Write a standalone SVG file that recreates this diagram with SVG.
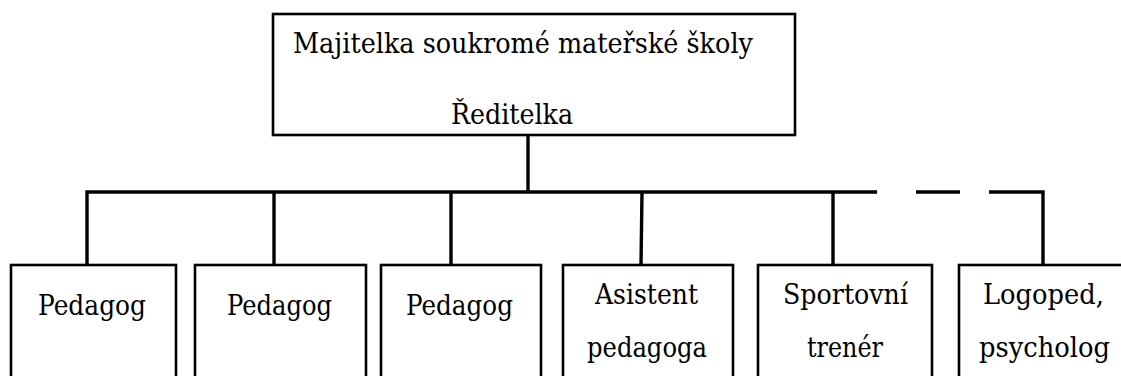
<svg xmlns="http://www.w3.org/2000/svg" width="1121" height="376" viewBox="0 0 1121 376">
<style>
.box{fill:#fff;stroke:#000;stroke-width:2.6}
.t{font-family:'DejaVu Serif','Liberation Serif',serif;font-size:28px;fill:#000}
.c{fill:none;stroke:#000;stroke-width:3.4}
</style>
<rect x="0" y="0" width="1121" height="376" fill="#fff"/>
<g id="connectors">
<path class="c" d="M528 135V192"/>
<path class="c" d="M87 265V192H877"/>
<path class="c" d="M916 192H960"/>
<path class="c" d="M989 192H1043V265"/>
<path class="c" d="M274 192V265"/>
<path class="c" d="M451 192V265"/>
<path class="c" d="M642 192L641 265"/>
<path class="c" d="M833 192V265"/>
</g>
<g id="top">
<rect class="box" x="273" y="14" width="522" height="121"/>
<text class="t" x="293" y="53" textLength="460" lengthAdjust="spacingAndGlyphs">Majitelka soukromé mateřské školy</text>
<text class="t" x="451" y="124" textLength="122" lengthAdjust="spacingAndGlyphs">Ředitelka</text>
</g>
<g id="n1">
<rect class="box" x="11" y="265" width="165" height="130"/>
<text class="t" x="38" y="315" textLength="108" lengthAdjust="spacingAndGlyphs">Pedagog</text>
</g>
<g id="n2">
<rect class="box" x="195" y="265" width="171" height="130"/>
<text class="t" x="227" y="315" textLength="105" lengthAdjust="spacingAndGlyphs">Pedagog</text>
</g>
<g id="n3">
<rect class="box" x="381" y="265" width="160" height="130"/>
<text class="t" x="406" y="315" textLength="107" lengthAdjust="spacingAndGlyphs">Pedagog</text>
</g>
<g id="n4">
<rect class="box" x="563" y="265" width="170" height="130"/>
<text class="t" x="595" y="304" textLength="103" lengthAdjust="spacingAndGlyphs">Asistent</text>
<text class="t" x="587" y="357" textLength="120" lengthAdjust="spacingAndGlyphs">pedagoga</text>
</g>
<g id="n5">
<rect class="box" x="758" y="265" width="174" height="130"/>
<text class="t" x="783" y="304" textLength="125" lengthAdjust="spacingAndGlyphs">Sportovní</text>
<text class="t" x="807" y="357" textLength="76" lengthAdjust="spacingAndGlyphs">trenér</text>
</g>
<g id="n6">
<rect class="box" x="959" y="265" width="180" height="130"/>
<text class="t" x="983" y="304" textLength="121" lengthAdjust="spacingAndGlyphs">Logoped,</text>
<text class="t" x="979" y="357" textLength="131" lengthAdjust="spacingAndGlyphs">psycholog</text>
</g>
</svg>
